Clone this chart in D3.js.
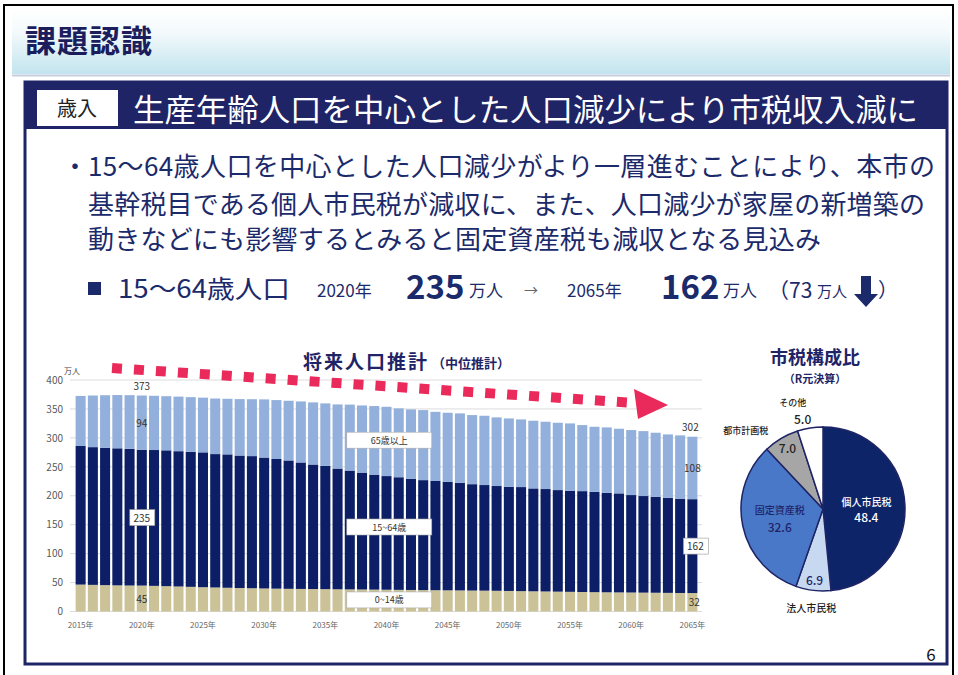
<!DOCTYPE html>
<html><head><meta charset="utf-8">
<script src="https://cdn.jsdelivr.net/npm/d3@7/dist/d3.min.js"></script>
<style>
html,body{margin:0;padding:0;background:#fff;}
svg{display:block;font-family:"Noto Sans CJK JP","Noto Sans",sans-serif;}
</style></head><body>
<svg id="c" width="958" height="675"></svg>
<script>
// ---- data: projected population (万人), by age group ----
const years = [2015,2016,2017,2018,2019,2020,2021,2022,2023,2024,2025,2026,2027,2028,2029,2030,
  2031,2032,2033,2034,2035,2036,2037,2038,2039,2040,2041,2042,2043,2044,2045,2046,2047,2048,2049,2050,
  2051,2052,2053,2054,2055,2056,2057,2058,2059,2060,2061,2062,2063,2064,2065];
const age0to14 = [46.5,46.0,45.6,45.2,44.9,44.8,44.3,43.8,43.2,42.6,42.0,41.5,41.0,40.6,40.2,39.8,
  39.5,39.2,39.0,38.8,38.6,38.4,38.2,38.0,37.8,37.6,37.4,37.2,37.0,36.8,36.6,36.4,36.2,36.0,35.8,35.5,
  35.2,34.9,34.6,34.3,34.0,33.7,33.4,33.2,33.0,32.8,32.6,32.4,32.2,32.0,31.9];
const age15to64 = [239.5,238.0,237.4,236.8,236.1,234.8,234.7,234.7,233.8,233.4,233.0,230.5,230.5,228.9,228.3,226.2,
  224.0,221.8,218.5,215.2,212.9,208.6,205.3,202.0,198.7,196.4,194.6,192.3,190.0,188.7,187.6,186.1,183.8,182.5,181.0,180.1,
  179.8,177.8,177.0,175.5,174.7,174.3,173.5,172.0,171.1,168.4,166.9,165.9,164.4,163.0,162.2];
const age65plus = [86.5,89.2,90.7,92.0,92.8,93.6,93.7,93.5,94.3,94.4,94.5,96.0,96.0,97.5,98.3,100.5,
  101.8,103.1,105.5,107.3,108.1,110.8,114.0,116.0,118.5,119.7,119.0,119.7,121.0,119.5,119.2,119.8,119.4,119.7,118.6,118.0,
  116.9,116.9,116.3,116.3,116.3,114.1,112.3,112.9,111.7,112.3,112.2,110.6,109.4,109.3,107.9];
const ageGroups = ["65歳以上","15~64歳","0~14歳"];
const yTicks = [0,50,100,150,200,250,300,350,400];
const xTickYears = [2015,2020,2025,2030,2035,2040,2045,2050,2055,2060,2065];
const labelledYears = [2020,2065];

// ---- data: city tax composition (%) ----
const taxNames = ["個人市民税","法人市民税","固定資産税","都市計画税","その他"];
const taxShares = [48.4,6.9,32.6,7.0,5.0];

const NAVY = "#1f2466", TEXT = "#1b2a6b";
const svg = d3.select("#c");
const defs = svg.append("defs");

// ---- page frame and heading ----
const grad = defs.append("linearGradient").attr("id","hdr").attr("x1",0).attr("y1",0).attr("x2",0).attr("y2",1);
grad.append("stop").attr("offset","0%").attr("stop-color","#ffffff");
grad.append("stop").attr("offset","35%").attr("stop-color","#f4fafc");
grad.append("stop").attr("offset","100%").attr("stop-color","#c2e4ee");
svg.append("rect").attr("x",12).attr("y",9).attr("width",938).attr("height",65).attr("fill","url(#hdr)");
svg.append("line").attr("x1",12).attr("x2",950).attr("y1",75.5).attr("y2",75.5).attr("stroke","#c3cde0").attr("stroke-width",2);
svg.append("rect").attr("x",4).attr("y",5).attr("width",949).attr("height",720)
  .attr("fill","none").attr("stroke","#000").attr("stroke-width",2);
svg.append("text").attr("x",25).attr("y",52).attr("font-size",31).attr("font-weight",700)
  .attr("fill","#1b1d5c").attr("textLength",127).text("課題認識");

// ---- content box ----
svg.append("rect").attr("x",25).attr("y",82).attr("width",922).attr("height",582)
  .attr("fill","none").attr("stroke",NAVY).attr("stroke-width",3);
svg.append("rect").attr("x",25).attr("y",82).attr("width",922).attr("height",47).attr("fill",NAVY);
svg.append("rect").attr("x",37).attr("y",90).attr("width",81).attr("height",36).attr("fill","#fff");
svg.append("text").attr("x",77).attr("y",116).attr("text-anchor","middle").attr("font-size",20)
  .attr("fill","#222").text("歳入");
svg.append("text").attr("x",133).attr("y",121).attr("font-size",31).attr("fill","#fff")
  .attr("textLength",785).attr("lengthAdjust","spacingAndGlyphs").text("生産年齢人口を中心とした人口減少により市税収入減に");

// ---- bullet text ----
const body = svg.append("g").attr("fill",TEXT).attr("font-size",26);
body.append("text").attr("x",62).attr("y",176).text("・");
body.append("text").attr("x",88).attr("y",176).attr("textLength",847).text("15～64歳人口を中心とした人口減少がより一層進むことにより、本市の");
body.append("text").attr("x",88).attr("y",214).attr("textLength",837).text("基幹税目である個人市民税が減収に、また、人口減少が家屋の新増築の");
body.append("text").attr("x",88).attr("y",249).attr("textLength",733).text("動きなどにも影響するとみると固定資産税も減収となる見込み");

const hl = svg.append("g").attr("fill",TEXT);
hl.append("rect").attr("x",88).attr("y",282).attr("width",13).attr("height",13).attr("fill",TEXT);
hl.append("text").attr("x",118).attr("y",298).attr("font-size",25).attr("textLength",172)
  .attr("lengthAdjust","spacingAndGlyphs").text("15～64歳人口");
hl.append("text").attr("x",317).attr("y",297).attr("font-size",17).text("2020年");
hl.append("text").attr("x",406).attr("y",299).attr("font-size",33).attr("font-weight",700).text("235");
hl.append("text").attr("x",469).attr("y",297).attr("font-size",17).text("万人");
hl.append("text").attr("x",524).attr("y",295).attr("font-size",14).attr("fill","#666").text("→");
hl.append("text").attr("x",567).attr("y",297).attr("font-size",17).text("2065年");
hl.append("text").attr("x",661).attr("y",299).attr("font-size",33).attr("font-weight",700).text("162");
hl.append("text").attr("x",723).attr("y",297).attr("font-size",17).text("万人");
hl.append("text").attr("x",768).attr("y",298).attr("font-size",21).text("（73");
hl.append("text").attr("x",817).attr("y",297).attr("font-size",15).text("万人");
hl.append("path").attr("d","M861,276 h10 v18 h7 l-12,13 l-12,-13 h7 z").attr("fill",TEXT);
hl.append("text").attr("x",878).attr("y",297).attr("font-size",20).text("）");

// ---- stacked bar chart ----
const rows = years.map((y,i)=>({year:y, "0~14歳":age0to14[i], "15~64歳":age15to64[i], "65歳以上":age65plus[i]}));
const x = d3.scaleBand().domain(years).range([75,698]).paddingInner(0.18).paddingOuter(0.05);
const y = d3.scaleLinear().domain([0,400]).range([611.5,380]);
const colors = {"0~14歳":"#cbc397","15~64歳":"#0c1f66","65歳以上":"#93b0dc"};

svg.append("g").selectAll("line").data(yTicks).join("line")
  .attr("x1",70).attr("x2",702).attr("y1",d=>y(d)).attr("y2",d=>y(d))
  .attr("stroke","#dcdcdc").attr("stroke-width",1);

const yAxis = svg.append("g").attr("transform","translate(66,0)")
  .call(d3.axisLeft(y).tickValues(yTicks).tickSize(0).tickPadding(3));
yAxis.select(".domain").remove();
yAxis.selectAll("text").attr("font-size",10).attr("fill","#595959").attr("font-family","'Noto Sans CJK JP',sans-serif");
svg.append("text").attr("x",64).attr("y",374).attr("font-size",8).attr("fill","#444").text("万人");

const stack = d3.stack().keys(["0~14歳","15~64歳","65歳以上"])(rows);
svg.append("g").selectAll("g").data(stack).join("g").attr("fill",d=>colors[d.key])
  .selectAll("rect").data(d=>d).join("rect")
  .attr("x",d=>x(d.data.year)).attr("width",x.bandwidth())
  .attr("y",d=>y(d[1])).attr("height",d=>y(d[0])-y(d[1]));

const xAxis = svg.append("g").attr("transform","translate(0,618)")
  .call(d3.axisBottom(x).tickValues(xTickYears).tickSize(0).tickPadding(4).tickFormat(d=>d+"年"));
xAxis.select(".domain").remove();
xAxis.selectAll("text").attr("font-size",8).attr("fill","#666").attr("font-family","'Noto Sans CJK JP',sans-serif");

// chart title and trend arrow
svg.append("text").attr("x",303).attr("y",369).attr("font-size",19).attr("font-weight",700)
  .attr("fill",NAVY).attr("textLength",124).text("将来人口推計");
svg.append("text").attr("x",432).attr("y",368).attr("font-size",13).attr("font-weight",700)
  .attr("fill",NAVY).text("（中位推計）");
svg.append("line").attr("x1",112).attr("y1",368).attr("x2",628).attr("y2",402.5)
  .attr("stroke","#ea2a5b").attr("stroke-width",10).attr("stroke-dasharray","10,12");
svg.append("path").attr("d","M634,389 L668,405 L638,419 Z").attr("fill","#ea2a5b");

// value labels for selected years
const fmt = d3.format(".0f");
labelledYears.forEach(yr=>{
  const i = years.indexOf(yr);
  const cx = x(yr) + x.bandwidth()/2;
  const a = age0to14[i], b = age15to64[i], c = age65plus[i], tot = a+b+c;
  const g = svg.append("g").attr("font-size",10).attr("fill","#333").attr("text-anchor","middle");
  g.append("text").attr("x",cx-(yr===2065?2:0)).attr("y",y(tot)-6).text(fmt(tot));
  g.append("text").attr("x",cx).attr("y",y(a+b+c/2)+4).text(fmt(c));
  g.append("text").attr("x",cx+(yr===2065?2:0)).attr("y",y(a/2)+4).text(fmt(a));
  const my = y(a+b/2);
  const bx = cx + (yr===2065?3:0);
  g.append("rect").attr("x",bx-12).attr("y",my-8).attr("width",25).attr("height",16)
    .attr("fill","#fff").attr("stroke","#999").attr("stroke-width",0.6);
  g.append("text").attr("x",bx).attr("y",my+4).text(fmt(b));
});

// age group captions
const capX = x(2037)+2, capW = 85;
[["65歳以上", 296],["15~64歳", 146],["0~14歳", 20]].forEach(([k,v])=>{
  const cy = y(v);
  svg.append("rect").attr("x",capX).attr("y",cy-8).attr("width",capW).attr("height",16)
    .attr("fill","#fff").attr("stroke","#aaa").attr("stroke-width",0.6);
  svg.append("text").attr("x",capX+capW/2).attr("y",cy+3.5).attr("text-anchor","middle")
    .attr("font-size",9).attr("fill","#333").text(k);
});

// ---- pie chart ----
const pcx = 823, pcy = 509, R = 82;
svg.append("text").attr("x",815).attr("y",364).attr("text-anchor","middle").attr("font-size",18)
  .attr("font-weight",700).attr("fill",NAVY).text("市税構成比");
svg.append("text").attr("x",815).attr("y",383).attr("text-anchor","middle").attr("font-size",11)
  .attr("font-weight",700).attr("fill",NAVY).text("（R元決算）");
const pieColors = ["#0e2468","#c6d9f0","#4a78c8","#a6a6a6","#ffffff"];
const arcs = d3.pie().sort(null)(taxShares);
const arc = d3.arc().innerRadius(0).outerRadius(R);
const pg = svg.append("g").attr("transform",`translate(${pcx},${pcy})`);
pg.selectAll("path").data(arcs).join("path").attr("d",arc)
  .attr("fill",(d,i)=>pieColors[i]).attr("stroke",NAVY).attr("stroke-width",1.5);

const at = (d,k)=>d3.arc().innerRadius(R*k).outerRadius(R*k).centroid(d);
const lab = (p,dx,dy,txt,size,fill)=>pg.append("text").attr("x",p[0]+dx).attr("y",p[1]+dy)
  .attr("text-anchor","middle").attr("font-size",size).attr("fill",fill).attr("font-weight",500).text(txt);
let p;
p = at(arcs[0],0.53); lab(p,0,-1,taxNames[0],10,"#fff"); lab(p,0,15,taxShares[0].toFixed(1),12,"#fff");
p = at(arcs[1],0.87); lab(p,0,5,taxShares[1].toFixed(1),12,NAVY);
p = at(arcs[1],1.2);  lab(p,0,5,taxNames[1],10,"#222");
p = at(arcs[2],0.54); lab(p,0,-4,taxNames[2],10,NAVY); lab(p,0,14,taxShares[2].toFixed(1),12,NAVY);
p = at(arcs[3],0.85); lab(p,0,4,taxShares[3].toFixed(1),12,"#222");
p = at(arcs[3],1.3);  lab(p,-23,17,taxNames[3],9,"#222");
p = at(arcs[4],1.12); lab(p,-16,-12,taxNames[4],9,"#222"); lab(p,-6,6,taxShares[4].toFixed(1),12,"#222");

// page number
svg.append("text").attr("x",931).attr("y",661).attr("text-anchor","middle").attr("font-size",17)
  .attr("fill","#111").text("6");
</script>
</body></html>
